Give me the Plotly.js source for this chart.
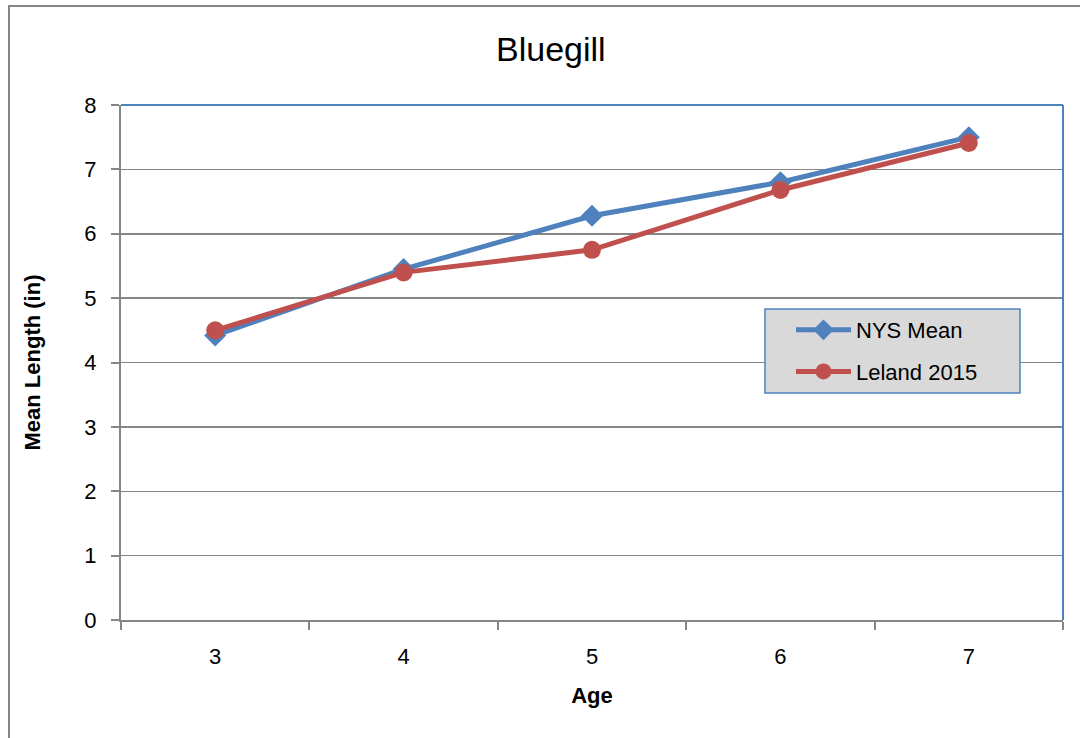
<!DOCTYPE html>
<html>
<head>
<meta charset="utf-8">
<script src="https://cdn.plot.ly/plotly-3.0.1.min.js"></script>
<style>html,body{margin:0;padding:0;background:#fff}#chart{width:1080px;height:738px}</style>
</head>
<body>
<div id="chart"></div>
<script>
var ages = ['3', '4', '5', '6', '7'];
var nysMean = [4.42, 5.45, 6.28, 6.8, 7.5];
var leland2015 = [4.5, 5.4, 5.75, 6.68, 7.41];
var yTicks = [0, 1, 2, 3, 4, 5, 6, 7, 8];

var FONT = 'Liberation Sans, Arial, sans-serif';
var traces = [
  {x: ages, y: nysMean, name: 'NYS Mean', type: 'scatter', mode: 'lines+markers', legendgroup: 'a',
   line: {color: '#4F81BD', width: 5}, marker: {symbol: 'diamond', size: 17, color: '#4F81BD'}},
  {x: ages, y: leland2015, name: 'Leland 2015', type: 'scatter', mode: 'lines+markers', legendgroup: 'b',
   line: {color: '#C0504D', width: 5}, marker: {symbol: 'circle', size: 18, color: '#C0504D'}}
];

function px(x) { return (x - 121) / 942; }
function py(y) { return (620 - y) / 515; }

var layout = {
  width: 1080, height: 738,
  margin: {l: 121, r: 17, t: 105, b: 118},
  paper_bgcolor: '#ffffff', plot_bgcolor: '#ffffff',
  font: {family: FONT, color: '#000000', size: 22},
  title: {text: 'Bluegill', font: {family: FONT, size: 34, color: '#000'}, x: 0.51, xanchor: 'center', y: 0.933, yanchor: 'middle'},
  showlegend: true,
  legend: {x: px(791), y: py(309), xanchor: 'left', yanchor: 'top', bgcolor: 'rgba(0,0,0,0)', borderwidth: 0,
           font: {family: FONT, size: 22, color: '#000'}, itemwidth: 55, tracegroupgap: 10},
  xaxis: {type: 'category', tickvals: ages, ticktext: ages, tickson: 'boundaries', ticks: 'outside', ticklen: 8, tickwidth: 2,
          tickcolor: '#868686', showline: true, linecolor: '#868686', linewidth: 2, showgrid: false, zeroline: false,
          tickfont: {family: FONT, size: 22}, range: [-0.5, 4.5], ticklabelstandoff: 16,
          title: {text: '<b>Age</b>', font: {family: FONT, size: 22}, standoff: 19}},
  yaxis: {range: [0, 8], tickvals: yTicks, ticks: 'outside', ticklen: 8, tickwidth: 2, tickcolor: '#868686',
          showline: true, linecolor: '#868686', linewidth: 2, showgrid: true, gridcolor: '#868686', gridwidth: 1.5,
          zeroline: false, tickfont: {family: FONT, size: 22}, ticklabelstandoff: 10,
          title: {text: '<b>Mean Length (in)</b>', font: {family: FONT, size: 22}, standoff: 38}},
  shapes: [
    {type: 'line', xref: 'paper', yref: 'paper', x0: 0, x1: 1, y0: 1, y1: 1, line: {color: '#4F81BD', width: 2}},
    {type: 'line', xref: 'paper', yref: 'paper', x0: 1, x1: 1, y0: 0, y1: 1, line: {color: '#4F81BD', width: 2}},
    {type: 'rect', xref: 'paper', yref: 'paper', x0: px(765), x1: px(1020), y0: py(393), y1: py(309),
     line: {color: '#4F81BD', width: 1.5}, fillcolor: '#D9D9D9', layer: 'above'},
    {type: 'rect', xref: 'paper', yref: 'paper', x0: px(9), x1: px(1100),
     y0: py(760), y1: py(6), line: {color: '#868686', width: 2}, fillcolor: 'rgba(0,0,0,0)', layer: 'below'}
  ]
};

Plotly.newPlot('chart', traces, layout, {displayModeBar: false, staticPlot: true});
</script>
</body>
</html>
